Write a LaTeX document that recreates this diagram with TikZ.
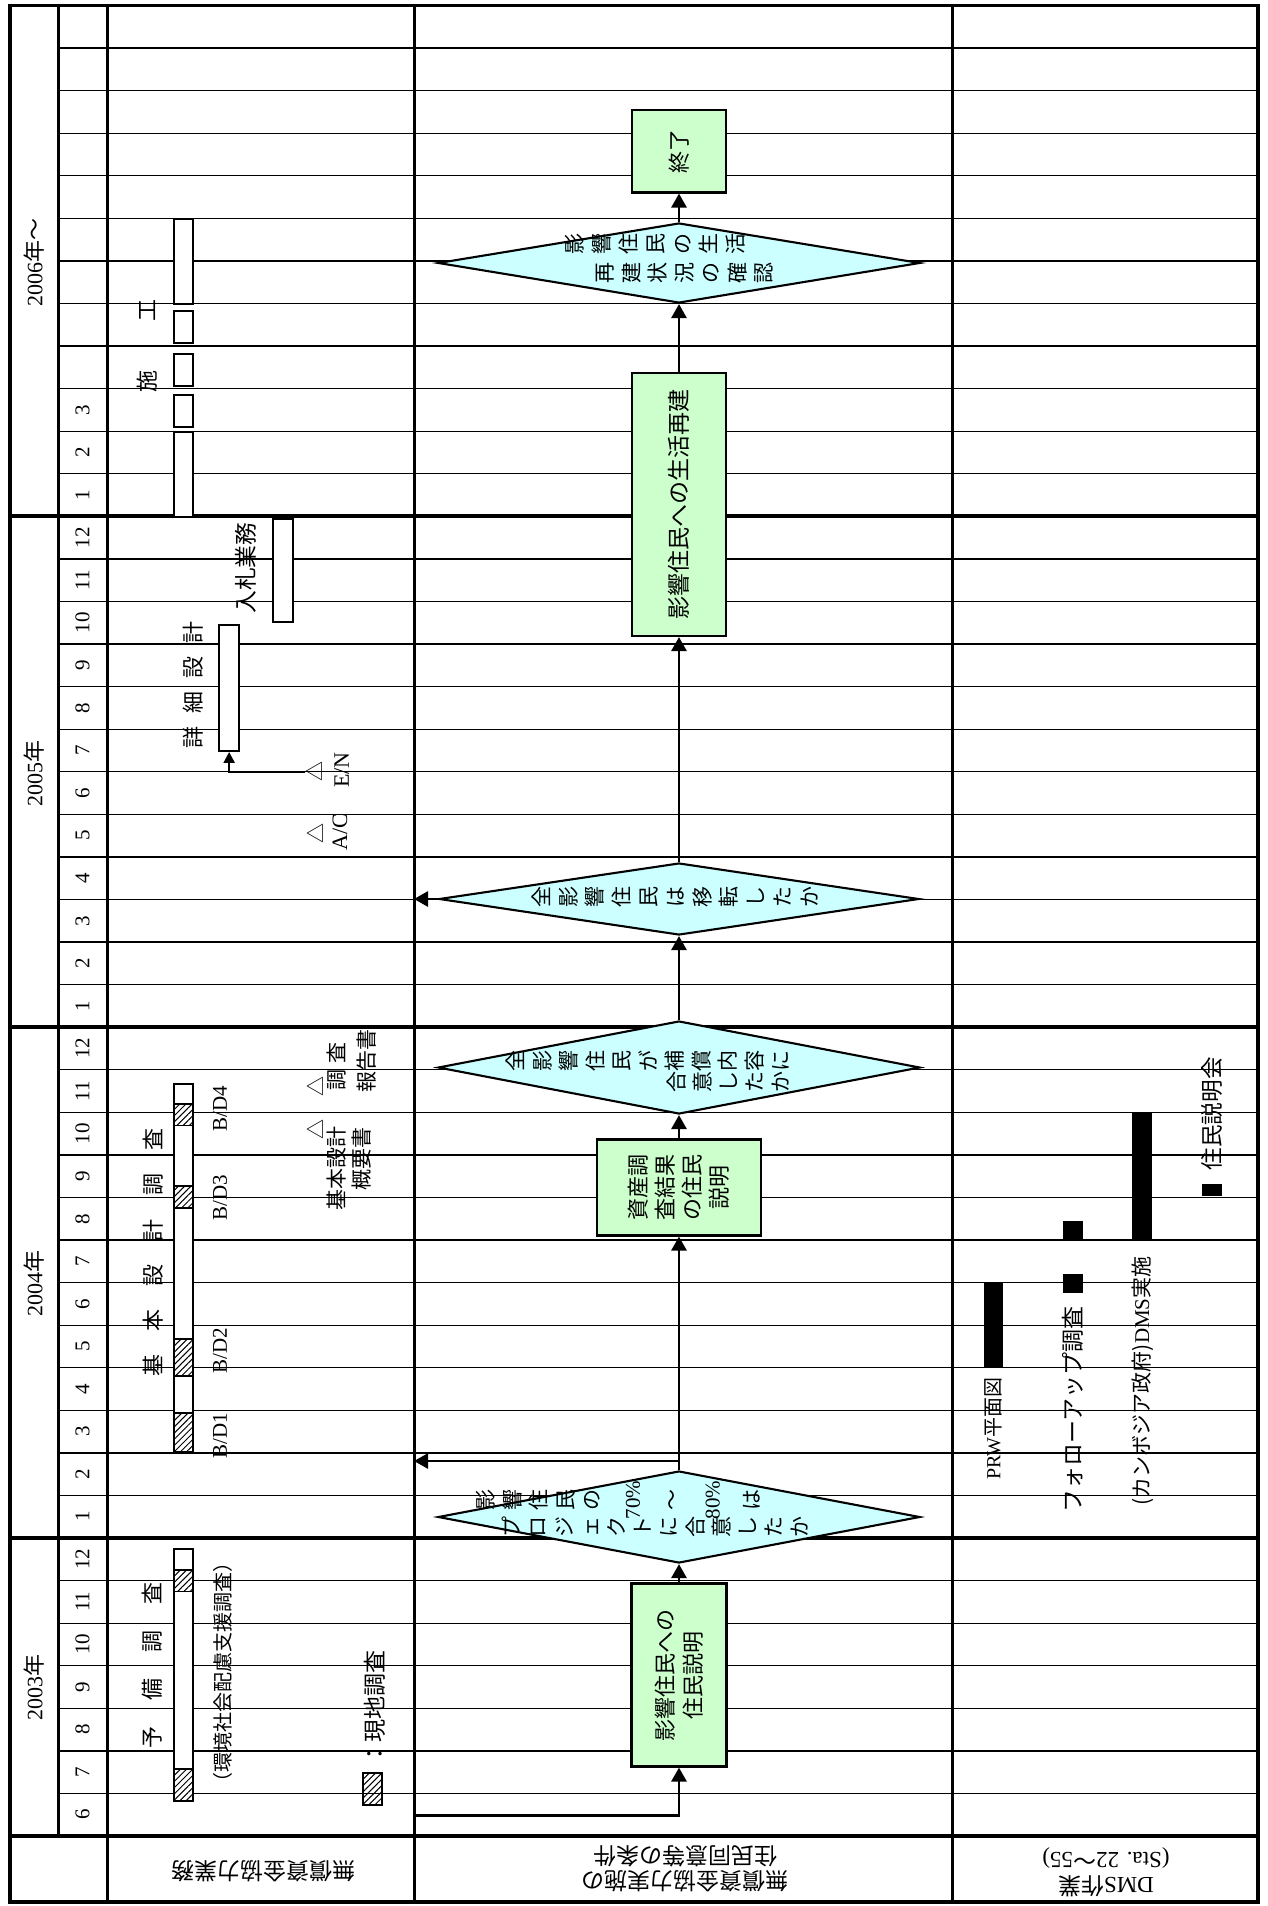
\documentclass[tikz,border=0pt]{standalone}
\usepackage{fontspec}
\setmainfont{Liberation Serif}
\newfontfamily\jp{Noto Sans CJK JP}
\usetikzlibrary{arrows.meta,shapes.geometric,patterns.meta,fit}

\definecolor{boxgreen}{HTML}{CCFFCC}
\definecolor{diacyan}{HTML}{CCFFFF}

\makeatletter
% glyphs stacked top to bottom at a fixed pitch; \tk inserts half a pitch
\def\tk{}
\def\tate@half{\tk}
\newcommand\tate[2]{\vbox{\offinterlineskip
  \@tfor\tate@c:=#2\do{%
    \ifx\tate@c\tate@half
      \kern.5\dimexpr#1\relax
    \else
      \hbox to 1em{\vrule width\z@ height.5\dimexpr#1\relax depth.5\dimexpr#1\relax
        \hss\raise-.38em\hbox{\tate@c}\hss}%
    \fi}}}
% letter-spaced run
\newcommand\spread[2]{\@tfor\spread@c:=#2\do{\spread@c\hskip#1\relax}\unskip}
\makeatother

\tikzset{
  rowline/.style={line width=0.65pt},
  colline/.style={line width=1.5pt},
  yearline/.style={line width=1.9pt},
  outerframe/.style={line width=1.9pt},
  vert/.style={rotate=90, inner sep=0},
  monthlabel/.style={vert, font=\fontsize{10.5}{12}\selectfont},
  yearlabel/.style={vert, font=\fontsize{11}{13}\selectfont},
  jlabel/.style={vert, font=\jp\fontsize{11}{14}\selectfont},
  latlabel/.style={vert, font=\fontsize{10.5}{12}\selectfont},
  tri/.style={vert, font=\jp\fontsize{10}{12}\selectfont},
  bar/.style={draw, fill=white, line width=0.95pt},
  hatch/.style={draw, line width=0.95pt, pattern={Lines[angle=45,distance=2.2pt,line width=0.5pt]}},
  solidbar/.style={fill=black},
  gbox/.style={draw, line width=1.05pt, fill=boxgreen, rotate=90, inner sep=0, align=center,
    font=\jp\fontsize{11}{14}\selectfont},
  dia/.style={diamond, draw, line width=1.05pt, fill=diacyan, inner sep=0},
  tatetext/.style={rotate=90, inner sep=0, font=\jp\fontsize{10.5}{13}\selectfont},
  flow/.style={line width=1.4pt, -{Triangle[length=7pt,width=7.5pt]}},
  smallflow/.style={line width=1.1pt, -{Triangle[length=5.5pt,width=5.5pt]}},
  hdr/.style={rotate=180, inner sep=0, align=center, font=\jp\fontsize{11.5}{12.5}\selectfont},
}

\begin{document}
\begin{tikzpicture}[x=0.5pt,y=-0.5pt]
\useasboundingbox (0,0) rectangle (1268,1906);

% ---- month rows and year separators
\foreach \k in {1,...,42}
  \draw[rowline] (58,{1836-\k*42.57}) -- (1258,{1836-\k*42.57});
\foreach \k in {7,19,31}
  \draw[yearline] (10,{1836-\k*42.57}) -- (1258,{1836-\k*42.57});
\draw[colline] (58,5.5) -- (58,1836);
\draw[colline] (107,5.5) -- (107,1902);
\draw[colline] (414,5.5) -- (414,1902);
\draw[colline] (952,5.5) -- (952,1902);
\draw[yearline] (10,1836) -- (1258,1836);
\draw[outerframe] (10,5.5) rectangle (1258,1902);

% ---- month numbers
\foreach \k in {0,...,33}{
  \pgfmathtruncatemacro\mm{\k<7 ? \k+6 : (\k<19 ? \k-6 : (\k<31 ? \k-18 : \k-30))}
  \node[monthlabel] (mon\k) at (82.5,{1836-(\k+0.5)*42.57}) {\mm};
}

% ---- years
\node[yearlabel] (y2003) at (34,1687) {2003{\jp 年}};
\node[yearlabel] (y2004) at (34,1283) {2004{\jp 年}};
\node[yearlabel] (y2005) at (34,773) {2005{\jp 年}};
\node[yearlabel] (y2006) at (34,262) {2006{\jp 年～}};

% ---- header row
\node[hdr] (h1) at (263,1871) {無償資金協力業務};
\node[hdr] (h2) at (685,1869) {無償資金協力実施の\\住民同意等の条件};
\node[hdr] (h3) at (1106,1872) {{\rmfamily DMS}作業\\{\rmfamily (Sta. 22}～{\rmfamily 55)}};

% ---- grant aid work: schedule bars
\draw[bar] (174,1549) rectangle (193.3,1801);
\draw[hatch] (174,1769.3) rectangle (193.3,1801);
\draw[hatch] (174,1570) rectangle (193.3,1591.5);

\draw[bar] (174,1084.2) rectangle (193.3,1451.6);
\draw[hatch] (174,1104) rectangle (193.3,1125.5);
\draw[hatch] (174,1186.4) rectangle (193.3,1207.8);
\draw[hatch] (174,1338.7) rectangle (193.3,1375.8);
\draw[hatch] (174,1413.3) rectangle (193.3,1451.6);

\node[bar, inner sep=0, fit={(219.3,625) (239,751)}] (sekkei) {};
\draw[bar] (273,518.6) rectangle (293,621.7);

\draw[bar] (174,432) rectangle (193.3,516.8);
\draw[bar] (174,394.6) rectangle (193.3,426.8);
\draw[bar] (174,353.6) rectangle (193.3,385.7);
\draw[bar] (174,310.7) rectangle (193.3,342.9);
\draw[bar] (174,218.6) rectangle (193.3,304.3);

\draw[hatch] (362.7,1772.7) rectangle (382.3,1805);

% ---- grant aid work: labels
\node[jlabel] (yobi) at (152,1665) {\spread{13pt}{予備調査}};
\node[jlabel, font=\jp\fontsize{10}{12}\selectfont] (kankyo) at (223,1672.5) {（環境社会配慮支援調査）};
\node[jlabel, font=\jp\fontsize{11.5}{13}\selectfont] (legend) at (375,1708) {：現地調査};
\node[jlabel] (kihon) at (153,1252.6) {\spread{11.6pt}{基本設計調査}};
\node[latlabel] (bd1) at (220,1436) {B/D1};
\node[latlabel] (bd2) at (220,1351) {B/D2};
\node[latlabel] (bd3) at (220,1198) {B/D3};
\node[latlabel] (bd4) at (220,1109) {B/D4};
\node[tri] (tri1) at (315,1129) {△};
\node[jlabel, font=\jp\fontsize{10.5}{12}\selectfont] (gaiyo1) at (336.7,1168) {基本設計};
\node[jlabel, font=\jp\fontsize{10.5}{12}\selectfont] (gaiyo2) at (361.7,1158.5) {概要書};
\node[tri] (tri2) at (315,1086) {△};
\node[jlabel, font=\jp\fontsize{10.5}{12}\selectfont] (hokoku1) at (336.7,1066) {\spread{3pt}{調査}};
\node[jlabel, font=\jp\fontsize{10.5}{12}\selectfont] (hokoku2) at (366.7,1061) {報告書};
\node[tri] (tri-ac) at (315,833) {△};
\node[latlabel, font=\fontsize{11}{12}\selectfont] (ac) at (340,832) {A/C};
\node[tri] (tri-en) at (314,771.7) {△};
\node[latlabel, font=\fontsize{11}{12}\selectfont] (en) at (341.7,770) {E/N};
\node[jlabel] (shosai) at (193,684.9) {\spread{6.5pt}{詳細設計}};
\node[jlabel, font=\jp\fontsize{11.4}{13}\selectfont] (nyusatsu) at (246,568) {入札業務};
\node[jlabel] (seko) at (147.5,346.4) {\spread{24.5pt}{施工}};
\draw[smallflow] (tri-en) -| (sekkei);

% ---- DMS work
\fill[solidbar] (984.3,1283) rectangle (1003.3,1366.6);
\fill[solidbar] (1062.7,1273.6) rectangle (1082.7,1292.8);
\fill[solidbar] (1062.7,1220.8) rectangle (1082.7,1239.2);
\fill[solidbar] (1132.3,1112.9) rectangle (1152.3,1239.2);
\fill[solidbar] (1202.3,1183.7) rectangle (1222.3,1196);
\node[jlabel, font=\jp\fontsize{10}{12}\selectfont] (prw) at (993.3,1428.7) {{\rmfamily PRW}平面図};
\node[jlabel, font=\jp\fontsize{11.5}{13}\selectfont] (follow) at (1072.7,1409.4) {フォローアップ調査};
\node[jlabel, font=\jp\fontsize{10.5}{12}\selectfont] (dms) at (1142.3,1380.8) {(カンボジア政府){\rmfamily DMS}実施};
\node[jlabel, font=\jp\fontsize{11.3}{13}\selectfont] (setsumei) at (1212.3,1113.8) {住民説明会};

% ---- consent flow
\node[gbox, minimum width=91.5pt, minimum height=47.5pt] (A) at (679,1675) {影響住民への\\住民説明};
\node[dia, minimum width=241pt, minimum height=46pt] (D1) at (679,1517) {};
\node[gbox, minimum width=48pt, minimum height=82pt, font=\jp\fontsize{11}{13.5}\selectfont] (B) at (679,1187.5) {資産調\\査結果\\の住民\\説明};
\node[dia, minimum width=241pt, minimum height=46.5pt] (D2) at (679,1067.5) {};
\node[dia, minimum width=240pt, minimum height=36pt] (D3) at (679,899) {};
\node[gbox, minimum width=131.5pt, minimum height=47.2pt, font=\jp\fontsize{11.5}{14}\selectfont] (C) at (679,504.5) {影響住民への生活再建};
\node[dia, minimum width=241pt, minimum height=40pt] (D4) at (679,263) {};
\node[gbox, minimum width=41.25pt, minimum height=47pt] (E) at (679,151.25) {終了};

\node[tatetext] (D1a) at (618.5,1500) {\tate{13.3pt}{影響住民の\tk{{\rmfamily 70\%}}\tk～\tk{{\rmfamily 80\%}}\tk は}};
\node[tatetext] (D1b) at (655.9,1526.7) {\tate{13.1pt}{プロジェクトに合意したか}};
\node[tatetext] (D2a) at (648.4,1061) {\tate{13.25pt}{全影響住民が補償内容に}};
\node[tatetext] (D2b) at (728.9,1082.3) {\tate{13pt}{合意したか}};
\node[tatetext] (D3a) at (675.4,896.7) {\tate{13.4pt}{全影響住民は移転したか}};
\node[tatetext] (D4a) at (655.4,244.3) {\tate{13.4pt}{影響住民の生活}};
\node[tatetext] (D4b) at (684.5,272.9) {\tate{13.25pt}{再建状況の確認}};

\coordinate (start) at (414,1815.7);
\coordinate (j1) at (679,1461);
\coordinate (back1) at (414,1461);
\coordinate (back2) at (414,899);

\draw[flow] (start) -| (A);
\draw[flow] (A) -- (D1);
\draw[flow] (D1) -- (B);
\draw[flow] (j1) -- (back1);
\draw[flow] (B) -- (D2);
\draw[flow] (D2) -- (D3);
\draw[flow] (D3.west) -- (back2);
\draw[flow] (D3) -- (C);
\draw[flow] (C) -- (D4);
\draw[flow] (D4) -- (E);
\end{tikzpicture}
\end{document}
